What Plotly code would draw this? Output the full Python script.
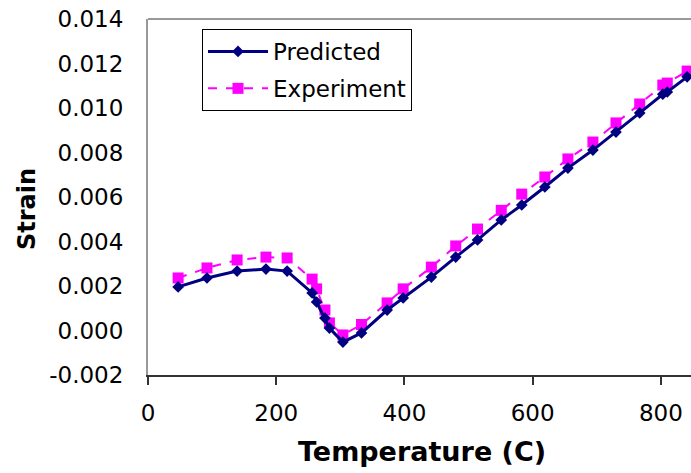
import plotly.graph_objects as go

temperature = [47, 92, 139, 184, 217, 256, 263, 276, 283, 304, 333, 373, 398,
               442, 480, 514, 551, 583, 619, 655, 694, 730, 767, 803, 810, 841]
predicted = [0.00196, 0.00236, 0.00267, 0.00276, 0.00267, 0.00169, 0.00128,
             0.00056, 0.00011, -0.00052, -0.00011, 0.00092, 0.00146, 0.00240,
             0.00330, 0.00407, 0.00497, 0.00564, 0.00645, 0.00730, 0.00811,
             0.00892, 0.00978, 0.01062, 0.01072, 0.01140]
experiment = [0.00236, 0.00281, 0.00317, 0.00330, 0.00326, 0.00231, 0.00187,
              0.00092, 0.00034, -0.00020, 0.00027, 0.00124, 0.00187, 0.00285,
              0.00380, 0.00456, 0.00540, 0.00613, 0.00690, 0.00771, 0.00847,
              0.00933, 0.01018, 0.01103, 0.01112, 0.01166]
x_ticks = [0, 200, 400, 600, 800]
y_ticks = [-0.002, 0.000, 0.002, 0.004, 0.006, 0.008, 0.010, 0.012, 0.014]

fig = go.Figure()
fig.add_trace(go.Scatter(
    x=temperature, y=experiment, name="Experiment", mode="lines+markers",
    line=dict(color="#FF00FF", width=2, dash="dash"),
    marker=dict(symbol="square", size=11, color="#FF00FF"),
    legendgroup="b", legendrank=2))
fig.add_trace(go.Scatter(
    x=temperature, y=predicted, name="Predicted", mode="lines+markers",
    line=dict(color="#000080", width=3),
    marker=dict(symbol="diamond", size=9, color="#000080"),
    legendgroup="a", legendrank=1))

font = "DejaVu Sans, Liberation Sans, Arial, sans-serif"
fig.update_layout(
    width=691, height=473,
    margin=dict(l=148, r=0, t=19, b=98),
    paper_bgcolor="white", plot_bgcolor="white",
    font=dict(family=font, size=23, color="black"),
    showlegend=True,
    legend=dict(x=(202 - 148) / 543, y=1 - (29 - 19) / 356,
                xanchor="left", yanchor="top",
                bordercolor="black", borderwidth=1, bgcolor="white",
                font=dict(size=23), traceorder="grouped", tracegroupgap=4,
                itemwidth=60),
    xaxis=dict(range=[0, 847], tickvals=x_ticks, ticktext=[str(v) for v in x_ticks],
               showgrid=False, zeroline=False, showline=True, linecolor="#333333",
               linewidth=2, ticks="outside", ticklen=8, tickcolor="#333333",
               tickwidth=2, tickfont=dict(size=23), ticklabelstandoff=8),
    yaxis=dict(range=[-0.002, 0.014], tickvals=y_ticks,
               ticktext=[f"{v:.3f}" for v in y_ticks],
               showgrid=False, zeroline=False, showline=True, linecolor="#999999",
               linewidth=2, ticks="", tickfont=dict(size=23), ticklabelstandoff=18),
    shapes=[dict(type="line", xref="paper", yref="paper", x0=0, x1=1, y0=1, y1=1,
                 line=dict(color="#999999", width=2))],
    annotations=[
        dict(text="<b>Temperature (C)</b>", xref="paper", yref="paper",
             x=(422 - 148) / 543, y=-(452 - 375) / 356, showarrow=False,
             xanchor="center", yanchor="middle", font=dict(size=27)),
        dict(text="<b>Strain</b>", xref="paper", yref="paper",
             x=-(148 - 27) / 543, y=(375 - 209) / 356, showarrow=False,
             textangle=-90, xanchor="center", yanchor="middle", font=dict(size=24)),
    ],
)
fig.write_html("out.html")
